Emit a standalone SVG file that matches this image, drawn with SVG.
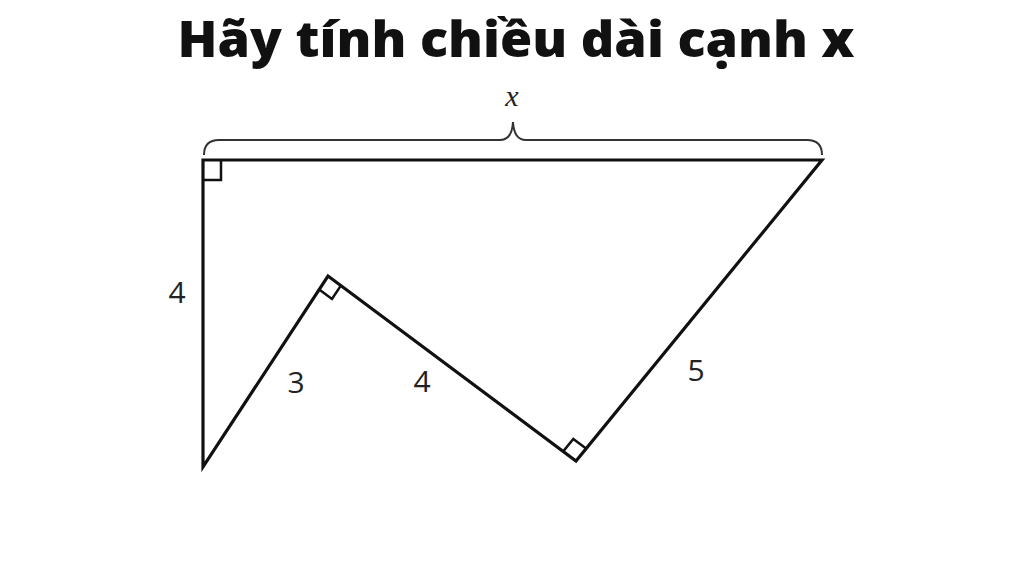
<svg xmlns="http://www.w3.org/2000/svg" width="1024" height="572" viewBox="0 0 1024 572">
<style>
.title{font-family:"Open Sans","Liberation Sans",sans-serif;font-weight:800;font-size:50px;fill:#111}
.lbl{font-family:"Open Sans","Liberation Sans",sans-serif;font-size:30px;fill:#222}
.shape{fill:none;stroke:#111;stroke-width:3.2;stroke-linejoin:miter}
.mark{fill:none;stroke:#111;stroke-width:2.5}
.brace{fill:none;stroke:#333;stroke-width:2}
</style>
<rect width="1024" height="572" fill="#fff"/>
<text class="title" x="516" y="57" text-anchor="middle" textLength="677" lengthAdjust="spacingAndGlyphs">Hãy tính chiều dài cạnh x</text>
<g id="figure">
<polygon class="shape" points="203,160 822,160 576,461 328,276 203,467"/>
<polyline class="mark" points="203,180 221,180 221,160"/>
<polyline class="mark" points="319.2,289.4 332,299 340.8,285.6"/>
<polyline class="mark" points="563.2,451.4 573.3,439 586.1,448.6"/>
</g>
<g id="brace">
<path class="brace" d="M204,155 Q204,140 219,140 L500,140 Q512,140 513,122 Q514,140 526,140 L807,140 Q822,140 822,155"/>
<text x="512" y="106" text-anchor="middle" font-family="Liberation Serif,serif" font-style="italic" font-size="30" fill="#222">x</text>
</g>
<g id="labels">
<text class="lbl" x="177" y="303" text-anchor="middle">4</text>
<text class="lbl" x="296" y="393" text-anchor="middle">3</text>
<text class="lbl" x="422" y="392" text-anchor="middle">4</text>
<text class="lbl" x="696" y="381" text-anchor="middle">5</text>
</g>
</svg>
